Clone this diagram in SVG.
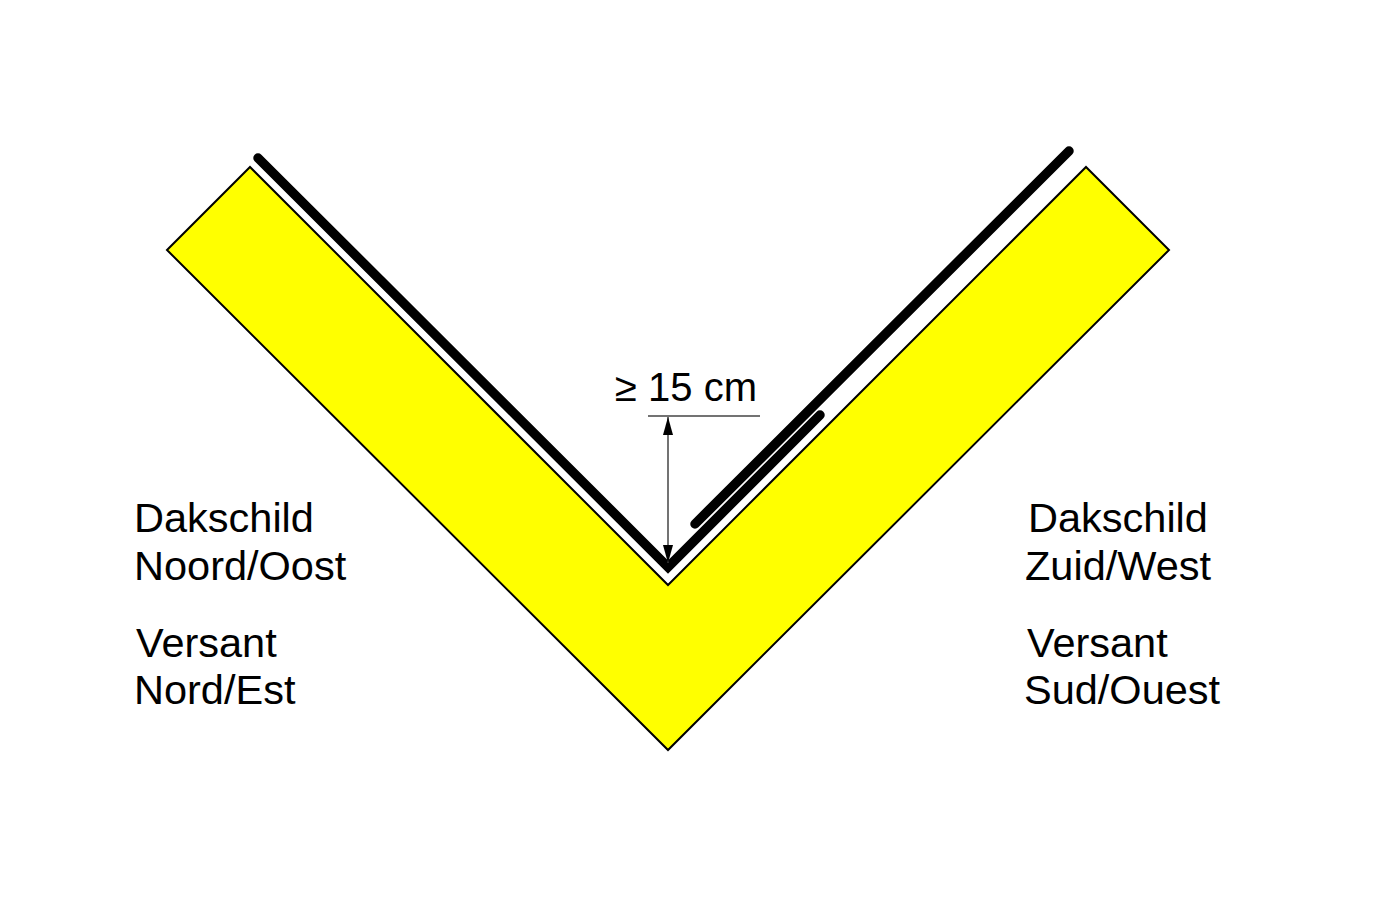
<svg xmlns="http://www.w3.org/2000/svg" width="1400" height="900" viewBox="0 0 1400 900">
  <style>
    .lbl { font-family: "Liberation Sans", Arial, sans-serif; font-size: 41.5px; fill: #000; }
    .dim { font-family: "Liberation Sans", Arial, sans-serif; font-size: 40px; fill: #000; }
    .sheet { fill: none; stroke: #000; stroke-width: 9.5; stroke-linecap: round; stroke-linejoin: miter; }
  </style>
  <defs>
    <marker id="arr" viewBox="0 0 18 10" refX="18" refY="5" markerWidth="18" markerHeight="10" markerUnits="userSpaceOnUse" orient="auto-start-reverse">
      <path d="M0,0 L18,5 L0,10 Z" fill="#000"/>
    </marker>
  </defs>
  <rect width="1400" height="900" fill="#fff"/>

  <g id="roof">
    <polygon points="167,250 250,167 668,585 1086,167 1169,250 668,750" fill="#ffff00" stroke="#000" stroke-width="2" stroke-linejoin="miter"/>
  </g>

  <g id="flashing-left">
    <polyline class="sheet" points="258,158 668,567 820,415"/>
  </g>
  <g id="flashing-right">
    <line class="sheet" x1="1069" y1="151" x2="695" y2="524"/>
  </g>

  <g id="dimension">
    <line x1="648" y1="416" x2="760" y2="416" stroke="#444" stroke-width="1.5"/>
    <line x1="668" y1="417" x2="668" y2="563" stroke="#444" stroke-width="1.5" marker-start="url(#arr)" marker-end="url(#arr)"/>
    <text class="dim" x="615" y="401">≥ 15 cm</text>
  </g>

  <g id="label-left">
    <text class="lbl" x="134" y="532">Dakschild</text>
    <text class="lbl" x="134" y="580">Noord/Oost</text>
    <text class="lbl" x="136" y="657">Versant</text>
    <text class="lbl" x="134" y="704">Nord/Est</text>
  </g>
  <g id="label-right">
    <text class="lbl" x="1028" y="532">Dakschild</text>
    <text class="lbl" x="1025" y="580">Zuid/West</text>
    <text class="lbl" x="1027" y="657">Versant</text>
    <text class="lbl" x="1024" y="704">Sud/Ouest</text>
  </g>
</svg>
